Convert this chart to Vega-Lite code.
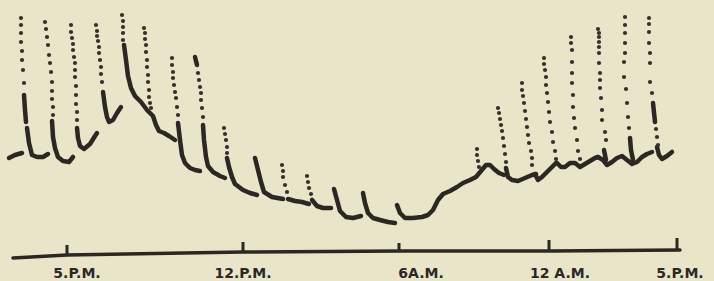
{
"$schema": "https://vega.github.io/schema/vega-lite/v6.json",
"width": 714, "height": 281, "padding": 0, "autosize": {"type": "none"},
"background": "#e8e5c9",
"config": {"view": {"stroke": null}},
"datasets": {
"trace": [
{"s":"A","x":9,"y":158},{"s":"A","x":15,"y":155},{"s":"A","x":22,"y":153},
{"s":"B1","x":24,"y":95},{"s":"B1","x":25,"y":110},{"s":"B1","x":26,"y":122},
{"s":"B2","x":27,"y":128},{"s":"B2","x":29,"y":143},{"s":"B2","x":32,"y":155},{"s":"B2","x":37,"y":157},{"s":"B2","x":43,"y":157},{"s":"B2","x":48,"y":154},
{"s":"C","x":52,"y":121},{"s":"C","x":53,"y":137},{"s":"C","x":55,"y":148},{"s":"C","x":58,"y":157},{"s":"C","x":63,"y":161},{"s":"C","x":69,"y":162},{"s":"C","x":73,"y":157},
{"s":"D","x":77,"y":128},{"s":"D","x":78,"y":138},{"s":"D","x":80,"y":146},{"s":"D","x":84,"y":149},{"s":"D","x":90,"y":144},{"s":"D","x":95,"y":136},{"s":"D","x":97,"y":133},
{"s":"E","x":103,"y":92},{"s":"E","x":105,"y":107},{"s":"E","x":107,"y":117},{"s":"E","x":109,"y":122},{"s":"E","x":113,"y":120},{"s":"E","x":117,"y":113},{"s":"E","x":121,"y":107},
{"s":"F","x":124,"y":45},{"s":"F","x":126,"y":60},{"s":"F","x":128,"y":76},{"s":"F","x":131,"y":88},{"s":"F","x":135,"y":96},{"s":"F","x":141,"y":102},{"s":"F","x":147,"y":110},{"s":"F","x":153,"y":116},{"s":"F","x":156,"y":125},{"s":"F","x":159,"y":131},{"s":"F","x":164,"y":133},{"s":"F","x":169,"y":136},{"s":"F","x":175,"y":140},
{"s":"G","x":178,"y":123},{"s":"G","x":180,"y":140},{"s":"G","x":182,"y":155},{"s":"G","x":185,"y":163},{"s":"G","x":190,"y":168},{"s":"G","x":195,"y":170},{"s":"G","x":200,"y":171},
{"s":"H0","x":195,"y":57},{"s":"H0","x":197,"y":65},
{"s":"H","x":203,"y":125},{"s":"H","x":204,"y":140},{"s":"H","x":206,"y":157},{"s":"H","x":208,"y":166},{"s":"H","x":213,"y":172},{"s":"H","x":220,"y":176},{"s":"H","x":225,"y":178},
{"s":"I","x":227,"y":158},{"s":"I","x":229,"y":167},{"s":"I","x":232,"y":177},{"s":"I","x":235,"y":184},{"s":"I","x":243,"y":190},{"s":"I","x":250,"y":193},{"s":"I","x":257,"y":195},
{"s":"J","x":255,"y":158},{"s":"J","x":258,"y":170},{"s":"J","x":261,"y":182},{"s":"J","x":264,"y":192},{"s":"J","x":272,"y":197},{"s":"J","x":283,"y":199},
{"s":"K","x":288,"y":199},{"s":"K","x":295,"y":201},{"s":"K","x":302,"y":202},{"s":"K","x":309,"y":204},
{"s":"L","x":312,"y":200},{"s":"L","x":317,"y":206},{"s":"L","x":323,"y":208},{"s":"L","x":331,"y":208},
{"s":"M","x":334,"y":189},{"s":"M","x":337,"y":200},{"s":"M","x":340,"y":211},{"s":"M","x":346,"y":217},{"s":"M","x":353,"y":218},{"s":"M","x":361,"y":216},
{"s":"N","x":363,"y":193},{"s":"N","x":365,"y":203},{"s":"N","x":368,"y":213},{"s":"N","x":373,"y":218},{"s":"N","x":380,"y":220},{"s":"N","x":388,"y":222},{"s":"N","x":395,"y":223},
{"s":"O","x":397,"y":205},{"s":"O","x":400,"y":213},{"s":"O","x":405,"y":218},{"s":"O","x":413,"y":218},{"s":"O","x":422,"y":217},{"s":"O","x":428,"y":215},{"s":"O","x":433,"y":210},{"s":"O","x":438,"y":200},{"s":"O","x":443,"y":194},{"s":"O","x":450,"y":191},{"s":"O","x":457,"y":187},{"s":"O","x":463,"y":183},{"s":"O","x":470,"y":180},{"s":"O","x":476,"y":177},{"s":"O","x":481,"y":171},{"s":"O","x":486,"y":165},{"s":"O","x":490,"y":165},{"s":"O","x":494,"y":169},{"s":"O","x":499,"y":173},{"s":"O","x":504,"y":175},
{"s":"P","x":506,"y":168},{"s":"P","x":508,"y":177},{"s":"P","x":512,"y":180},{"s":"P","x":518,"y":181},{"s":"P","x":525,"y":178},{"s":"P","x":532,"y":175},{"s":"P","x":536,"y":174},
{"s":"Q","x":535,"y":174},{"s":"Q","x":538,"y":180},{"s":"Q","x":542,"y":177},{"s":"Q","x":547,"y":172},{"s":"Q","x":552,"y":167},{"s":"Q","x":556,"y":163},
{"s":"R","x":557,"y":163},{"s":"R","x":561,"y":167},{"s":"R","x":565,"y":167},{"s":"R","x":570,"y":163},{"s":"R","x":575,"y":163},{"s":"R","x":580,"y":167},{"s":"R","x":585,"y":164},{"s":"R","x":590,"y":161},{"s":"R","x":595,"y":158},{"s":"R","x":598,"y":157},
{"s":"S","x":598,"y":157},{"s":"S","x":603,"y":160},{"s":"S","x":607,"y":165},{"s":"S","x":612,"y":162},{"s":"S","x":617,"y":158},{"s":"S","x":622,"y":156},{"s":"S","x":627,"y":160},{"s":"S","x":632,"y":164},{"s":"S","x":637,"y":162},{"s":"S","x":642,"y":157},{"s":"S","x":647,"y":154},{"s":"S","x":652,"y":152},
{"s":"U","x":630,"y":138},{"s":"U","x":631,"y":150},{"s":"U","x":633,"y":160},
{"s":"V","x":604,"y":150},{"s":"V","x":606,"y":160},
{"s":"W","x":653,"y":103},{"s":"W","x":655,"y":122},
{"s":"T","x":657,"y":147},{"s":"T","x":659,"y":155},{"s":"T","x":662,"y":159},{"s":"T","x":667,"y":156},{"s":"T","x":672,"y":152}
],
"dots": [
{"x":21,"y":18},{"x":21,"y":25},{"x":21,"y":33},{"x":21,"y":42},{"x":22,"y":51},{"x":22,"y":60},{"x":23,"y":70},{"x":24,"y":83},
{"x":45,"y":22},{"x":46,"y":29},{"x":47,"y":37},{"x":48,"y":45},{"x":49,"y":55},{"x":50,"y":63},{"x":51,"y":72},{"x":52,"y":82},{"x":52,"y":91},{"x":52,"y":99},{"x":53,"y":107},{"x":53,"y":115},
{"x":71,"y":25},{"x":71,"y":32},{"x":72,"y":38},{"x":73,"y":44},{"x":73,"y":50},{"x":74,"y":57},{"x":75,"y":63},{"x":75,"y":70},{"x":75,"y":77},{"x":76,"y":86},{"x":76,"y":95},{"x":76,"y":104},{"x":77,"y":112},{"x":77,"y":120},
{"x":96,"y":25},{"x":97,"y":31},{"x":97,"y":36},{"x":98,"y":41},{"x":99,"y":47},{"x":99,"y":53},{"x":100,"y":60},{"x":101,"y":67},{"x":101,"y":74},{"x":102,"y":82},
{"x":122,"y":15},{"x":123,"y":21},{"x":123,"y":27},{"x":123,"y":33},{"x":123,"y":40},
{"x":144,"y":28},{"x":145,"y":33},{"x":145,"y":39},{"x":146,"y":45},{"x":146,"y":52},{"x":147,"y":60},{"x":147,"y":67},{"x":148,"y":75},{"x":148,"y":82},{"x":149,"y":90},{"x":149,"y":97},{"x":150,"y":103},{"x":151,"y":108},
{"x":172,"y":58},{"x":172,"y":65},{"x":173,"y":72},{"x":173,"y":78},{"x":174,"y":85},{"x":175,"y":92},{"x":176,"y":98},{"x":177,"y":107},{"x":178,"y":115},
{"x":198,"y":73},{"x":199,"y":80},{"x":200,"y":87},{"x":201,"y":93},{"x":201,"y":100},{"x":202,"y":108},{"x":203,"y":117},
{"x":224,"y":128},{"x":225,"y":134},{"x":226,"y":140},{"x":227,"y":147},{"x":227,"y":153},
{"x":282,"y":165},{"x":283,"y":171},{"x":283,"y":177},{"x":285,"y":185},{"x":287,"y":192},
{"x":307,"y":176},{"x":308,"y":182},{"x":309,"y":188},{"x":311,"y":194},
{"x":477,"y":149},{"x":477,"y":155},{"x":478,"y":161},{"x":479,"y":167},
{"x":498,"y":108},{"x":499,"y":113},{"x":500,"y":119},{"x":501,"y":125},{"x":502,"y":131},{"x":503,"y":138},{"x":504,"y":146},{"x":505,"y":154},{"x":506,"y":162},
{"x":522,"y":83},{"x":522,"y":90},{"x":523,"y":96},{"x":524,"y":103},{"x":525,"y":111},{"x":526,"y":119},{"x":527,"y":127},{"x":528,"y":135},{"x":529,"y":143},{"x":531,"y":151},{"x":532,"y":158},{"x":532,"y":165},
{"x":544,"y":58},{"x":544,"y":64},{"x":545,"y":70},{"x":546,"y":77},{"x":546,"y":85},{"x":547,"y":93},{"x":548,"y":102},{"x":549,"y":112},{"x":550,"y":122},{"x":552,"y":132},{"x":553,"y":142},{"x":555,"y":151},{"x":556,"y":159},
{"x":571,"y":37},{"x":571,"y":43},{"x":572,"y":50},{"x":572,"y":62},{"x":572,"y":73},{"x":572,"y":83},{"x":573,"y":95},{"x":573,"y":107},{"x":574,"y":118},{"x":575,"y":128},{"x":577,"y":140},{"x":578,"y":151},{"x":580,"y":159},
{"x":598,"y":29},{"x":599,"y":33},{"x":599,"y":37},{"x":599,"y":42},{"x":599,"y":47},{"x":599,"y":53},{"x":599,"y":63},{"x":600,"y":73},{"x":600,"y":80},{"x":600,"y":88},{"x":601,"y":98},{"x":602,"y":110},{"x":602,"y":120},{"x":605,"y":132},{"x":606,"y":140},
{"x":625,"y":17},{"x":625,"y":25},{"x":625,"y":33},{"x":625,"y":43},{"x":625,"y":53},{"x":624,"y":62},{"x":624,"y":77},{"x":626,"y":89},{"x":627,"y":103},{"x":628,"y":117},{"x":629,"y":128},
{"x":649,"y":18},{"x":649,"y":24},{"x":649,"y":32},{"x":649,"y":43},{"x":650,"y":53},{"x":650,"y":63},{"x":650,"y":82},{"x":652,"y":93},{"x":656,"y":129},{"x":657,"y":137},{"x":658,"y":145}
],
"base": [
{"x":13,"y":258},{"x":67,"y":255},{"x":243,"y":252},{"x":400,"y":251},{"x":550,"y":251},{"x":680,"y":250}
],
"ticks": [
{"x":67,"y":245,"y2":255},{"x":243,"y":242,"y2":252},{"x":399,"y":243,"y2":251},{"x":549,"y":240,"y2":251},{"x":677,"y":238,"y2":250}
],
"labels": [
{"x":77,"y":278,"t":"5.P.M."},{"x":243,"y":278,"t":"12.P.M."},{"x":421,"y":278,"t":"6A.M."},{"x":560,"y":278,"t":"12 A.M."},{"x":680,"y":278,"t":"5.P.M."}
]
},
"encoding": {
"x": {"field": "x", "type": "quantitative", "scale": {"domain": [0, 714], "nice": false, "zero": false}, "axis": null},
"y": {"field": "y", "type": "quantitative", "scale": {"domain": [0, 281], "nice": false, "zero": false, "reverse": true}, "axis": null}
},
"layer": [
{"data": {"name": "trace"}, "mark": {"type": "line", "color": "#2b2824", "strokeWidth": 4.5, "strokeCap": "round", "strokeJoin": "round"},
 "encoding": {"detail": {"field": "s"}, "order": {"value": null}}},
{"data": {"name": "dots"}, "mark": {"type": "point", "shape": "circle", "filled": true, "color": "#34312c", "size": 18, "opacity": 1}},
{"data": {"name": "base"}, "mark": {"type": "line", "color": "#2b2824", "strokeWidth": 3.5, "strokeCap": "round"},
 "encoding": {"order": {"value": null}}},
{"data": {"name": "ticks"}, "mark": {"type": "rule", "color": "#2b2824", "strokeWidth": 3},
 "encoding": {"y2": {"field": "y2"}}},
{"data": {"name": "labels"}, "mark": {"type": "text", "color": "#2b2824", "font": "DejaVu Sans", "fontWeight": "bold", "fontSize": 14, "align": "center", "baseline": "alphabetic"},
 "encoding": {"text": {"field": "t"}}}
]
}
